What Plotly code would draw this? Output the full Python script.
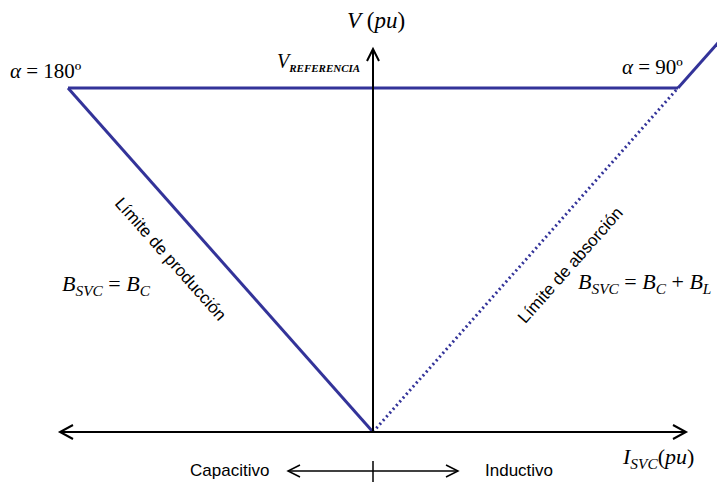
import plotly.graph_objects as go

# SVC steady-state V-I characteristic, per-unit values
v_ref = 1.0            # reference voltage
i_cap_limit = -1.0     # full capacitive current (alpha = 180 deg)
i_ind_limit = 1.0      # full inductive current (alpha = 90 deg)

production_I = [i_cap_limit, 0.0]
production_V = [v_ref, 0.0]
absorption_I = [0.0, i_ind_limit]
absorption_V = [0.0, v_ref]
regulation_I = [i_cap_limit, i_ind_limit]
regulation_V = [v_ref, v_ref]
overload_I = [i_ind_limit, 1.3]
overload_V = [v_ref, 1.3]

# canvas geometry: origin position and pixels per pu
W, H = 717, 482
OX, OY = 373, 432
SX, SY = 305, 344


def P(px, py):
    """pixel position on the canvas -> data coordinates"""
    return (px - OX) / SX, (OY - py) / SY


BLUE = "#333399"
BLACK = "#000000"
SERIF = "Liberation Serif, Times New Roman, serif"
SANS = "Liberation Sans, Arial, sans-serif"

fig = go.Figure()
fig.add_trace(go.Scatter(x=regulation_I, y=regulation_V, mode="lines",
                         line=dict(color=BLUE, width=3)))
fig.add_trace(go.Scatter(x=production_I, y=production_V, mode="lines",
                         line=dict(color=BLUE, width=3)))
fig.add_trace(go.Scatter(x=absorption_I, y=absorption_V, mode="lines",
                         line=dict(color=BLUE, width=3, dash="2px,3px")))
fig.add_trace(go.Scatter(x=overload_I, y=overload_V, mode="lines",
                         line=dict(color=BLUE, width=3)))

shapes = []


def seg(p1, p2, w=2):
    (x0, y0), (x1, y1) = P(*p1), P(*p2)
    shapes.append(dict(type="line", xref="x", yref="y", x0=x0, y0=y0,
                       x1=x1, y1=y1, line=dict(color=BLACK, width=w)))


def chevron(tip, a, b, w=2):
    pts = [P(*a), P(*tip), P(*b)]
    path = "M {} {} L {} {} L {} {}".format(*[c for p in pts for c in p])
    shapes.append(dict(type="path", xref="x", yref="y", path=path,
                       line=dict(color=BLACK, width=w)))


# current axis (horizontal, double-headed)
seg((60, OY), (686, OY))
chevron((60, OY), (73, OY - 7), (73, OY + 7))
chevron((686, OY), (673, OY - 7), (673, OY + 7))
# voltage axis
seg((OX, OY), (OX, 49))
chevron((OX, 49), (OX - 6, 61), (OX + 6, 61))
# capacitive / inductive direction arrow
seg((288, 471), (458, 471), w=1.5)
chevron((288, 471), (300, 465), (300, 477), w=1.5)
chevron((458, 471), (446, 465), (446, 477), w=1.5)
seg((OX, 461), (OX, 482), w=1.5)

annotations = []


def label(text, px, py, font, size, angle=0):
    x, y = P(px, py)
    annotations.append(dict(x=x, y=y, xref="x", yref="y", text=text,
                            showarrow=False, xanchor="center", yanchor="middle",
                            textangle=angle,
                            font=dict(family=font, size=size, color=BLACK)))


label("<i>V</i> (<i>pu</i>)", 376, 20, SERIF, 23)
label("<i>V</i><sub><span style='font-size:11px'><b><i>REFERENCIA</i></b></span></sub>",
      318, 62, SERIF, 20)
label("<i>α</i> = 180º", 46, 71, SERIF, 21)
label("<i>α</i> = 90º", 652, 67, SERIF, 21)
label("<i>B<sub>SVC</sub></i> = <i>B<sub>C</sub></i>", 106, 285, SERIF, 22)
label("<i>B<sub>SVC</sub></i> = <i>B<sub>C</sub></i> + <i>B<sub>L</sub></i>", 644, 283, SERIF, 22)
label("<i>I<sub>SVC</sub></i>(<i>pu</i>)", 658, 458, SERIF, 22)
label("Límite de producción", 171, 259, SANS, 17, angle=48.4)
label("Límite de absorción", 570, 265, SANS, 17, angle=-48.4)
label("Capacitivo", 229, 470, SANS, 17)
label("Inductivo", 519, 470, SANS, 17)

fig.update_layout(
    width=W, height=H, autosize=False,
    margin=dict(l=0, r=0, t=0, b=0),
    paper_bgcolor="white", plot_bgcolor="white",
    showlegend=False,
    xaxis=dict(range=[-OX / SX, (W - OX) / SX], visible=False, fixedrange=True),
    yaxis=dict(range=[-(H - OY) / SY, OY / SY], visible=False, fixedrange=True),
    shapes=shapes, annotations=annotations,
)

fig.write_html("out.html")
